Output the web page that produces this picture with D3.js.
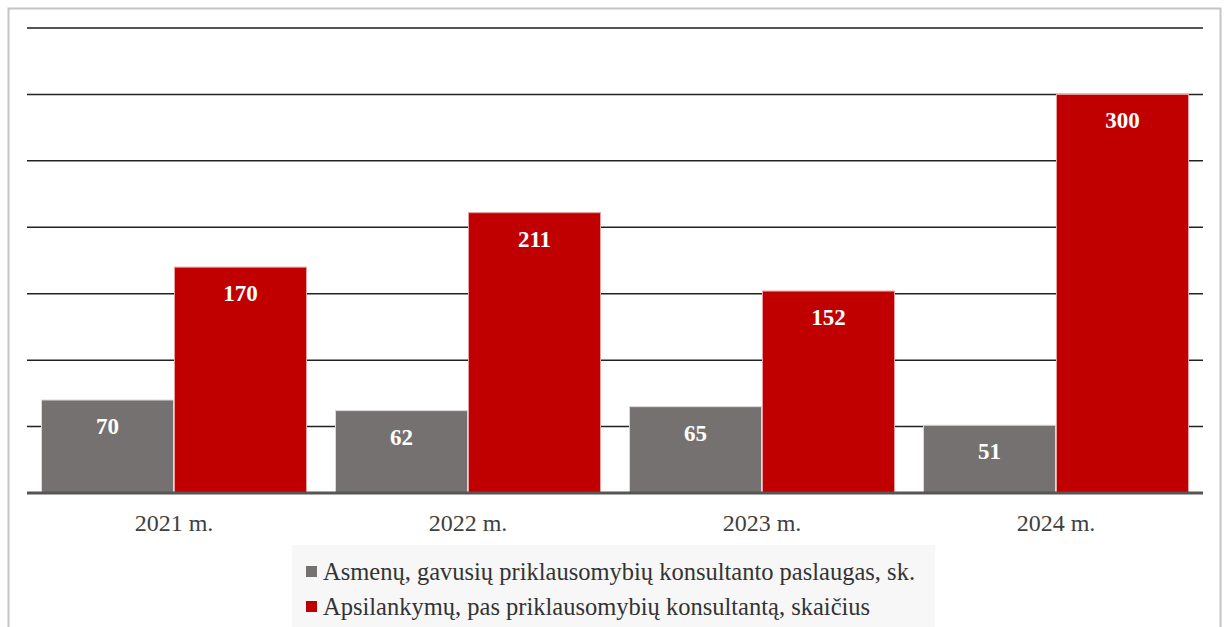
<!DOCTYPE html>
<html><head><meta charset="utf-8">
<script src="https://cdn.jsdelivr.net/npm/d3@7"></script>
<style>
html,body{margin:0;padding:0;background:#fff;}
svg{display:block;}
svg text{font-family:"Liberation Serif","Times New Roman","DejaVu Serif",serif;}
</style></head>
<body>
<svg id="c" width="1228" height="627"></svg>
<script>
const categories = ["2021 m.", "2022 m.", "2023 m.", "2024 m."];
const seriesNames = ["Asmenų, gavusių priklausomybių konsultanto paslaugas, sk.", "Apsilankymų, pas priklausomybių konsultantą, skaičius"];
const persons = [70, 62, 65, 51];
const visits = [170, 211, 152, 300];
const yTicks = [0, 50, 100, 150, 200, 250, 300, 350];
const colors = ["#767171", "#c00000"];

(function () {
const svg = d3.select("#c");
const pLeft = 27, pRight = 1203, pTop = 28, pBottom = 493;
const FONT = '"Liberation Serif","Times New Roman",serif';

svg.append("rect").attr("x", 8.5).attr("y", 8.5).attr("width", 1212).attr("height", 640)
  .attr("fill", "#fff").attr("stroke", "#c4c4c4").attr("stroke-width", 2);

const x = d3.scaleBand().domain(categories).range([pLeft, pRight]).paddingInner(0).paddingOuter(0);
const x1 = d3.scaleBand().domain([0, 1]).range([14, 294 - 14]).padding(0);
const y = d3.scaleLinear().domain([0, 350]).range([pBottom, pTop]);

svg.append("g").selectAll("line").data(yTicks.filter(t => t > 0)).join("line")
  .attr("x1", pLeft).attr("x2", pRight)
  .attr("y1", d => y(d)).attr("y2", d => y(d))
  .attr("stroke", d => d === 350 ? "#555" : "#222")
  .attr("stroke-width", d => d === 350 ? 2 : 1.5);

const series = [persons, visits];
const g = svg.append("g");
categories.forEach((c, i) => {
  series.forEach((s, j) => {
    const bx = x(c) + x1(j), bw = x1.bandwidth();
    g.append("rect").attr("x", bx + 0.5).attr("y", y(s[i])).attr("width", bw - 1)
      .attr("height", y(0) - y(s[i]))
      .attr("fill", colors[j]).attr("stroke", j === 0 ? "#d9d9d9" : "#e8a0a0").attr("stroke-width", 1);
    g.append("text").attr("x", bx + bw / 2).attr("y", y(s[i]) + 34)
      .attr("text-anchor", "middle").attr("fill", "#fff")
      .style("font-family", FONT)
      .attr("font-weight", "bold").attr("font-size", 23).text(s[i]);
  });
});

svg.append("line").attr("x1", pLeft).attr("x2", pRight).attr("y1", pBottom).attr("y2", pBottom)
  .attr("stroke", "#555").attr("stroke-width", 3);

const xAxis = svg.append("g").attr("transform", `translate(0,${pBottom})`)
  .call(d3.axisBottom(x).tickSize(0).tickPadding(21));
xAxis.select(".domain").remove();
xAxis.attr("font-family", null);
xAxis.selectAll("text").style("font-family", FONT)
  .attr("font-size", 24).attr("fill", "#404040");

const lg = svg.append("g");
lg.append("rect").attr("x", 292).attr("y", 545).attr("width", 643).attr("height", 90).attr("fill", "#f7f7f7");
seriesNames.forEach((n, j) => {
  const cy = 572 + j * 35;
  lg.append("rect").attr("x", 306).attr("y", cy - 6).attr("width", 11).attr("height", 11).attr("fill", colors[j]);
  lg.append("text").attr("x", 323).attr("y", cy + 8)
    .style("font-family", FONT)
    .attr("font-size", 24.5).attr("fill", "#333").text(n);
});
})();
</script>
</body></html>
